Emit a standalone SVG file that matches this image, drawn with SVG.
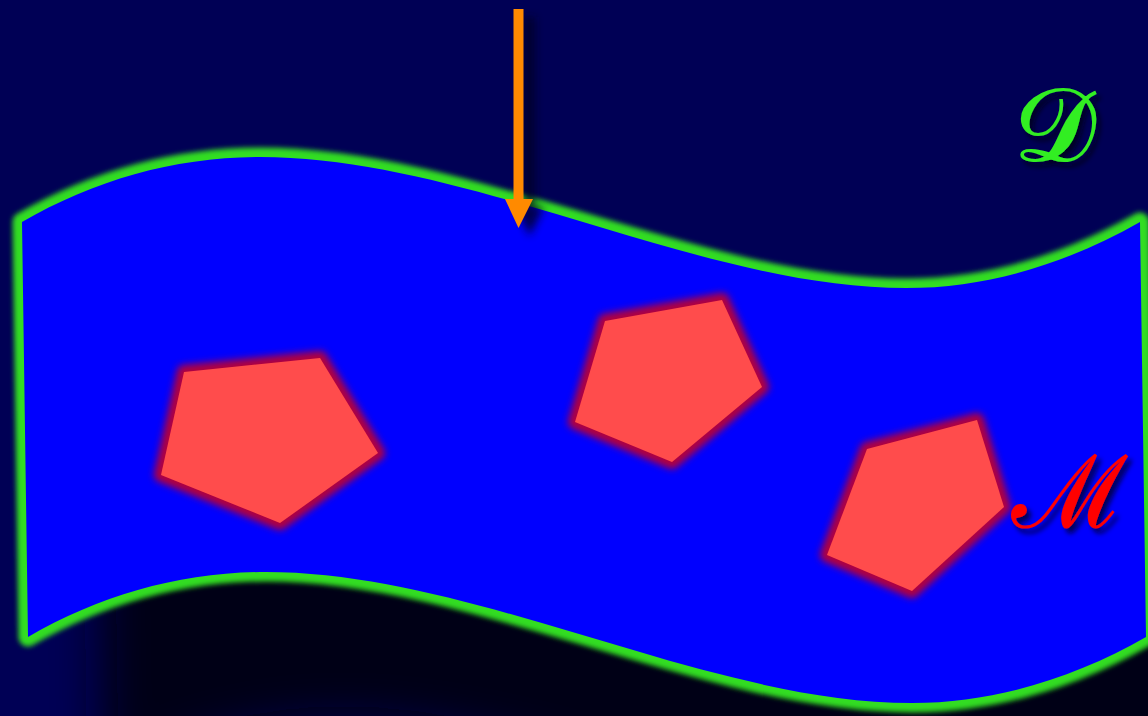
<svg xmlns="http://www.w3.org/2000/svg" width="1148" height="716" viewBox="0 0 1148 716">
  <style>
    .glow-edge { fill: none; stroke: #33dd22; stroke-width: 19; stroke-linejoin: round; }
    .sheet { fill: #0000ff; }
    .penta-edge { fill: none; stroke: #b3003c; stroke-width: 14; stroke-linejoin: round; }
    .penta { fill: #ff4c4c; }
    .label { font-family: "DejaVu Serif", "Liberation Serif", serif; font-style: normal; }
  </style>
  <defs>
    <filter id="blurSmall" x="-20%" y="-20%" width="140%" height="140%"><feGaussianBlur stdDeviation="2.8"/></filter>
    <filter id="blurPenta" x="-30%" y="-30%" width="160%" height="160%"><feGaussianBlur stdDeviation="3.5"/></filter>
    <filter id="blurShadow" x="-20%" y="-20%" width="140%" height="140%"><feGaussianBlur stdDeviation="24"/></filter>
    <filter id="blurArrow" x="-50%" y="-20%" width="200%" height="140%"><feGaussianBlur stdDeviation="4"/></filter>
    <filter id="textShadow" x="-30%" y="-30%" width="160%" height="160%">
      <feDropShadow dx="4" dy="5" stdDeviation="2.5" flood-color="#000010" flood-opacity="0.7"/>
    </filter>
    <path id="sheetPath" d="M22,222 C95,180 175,157 260,157 C470,157 700,288 906,288 C990,288 1070,262 1140,222 L1146,637 C1076,677 996,703 912,703 C706,703 476,572 266,572 C181,572 101,595 28,637 Z"/>
  </defs>

  <rect x="0" y="0" width="1148" height="716" fill="#000055"/>

  <g id="sheet">
    <use href="#sheetPath" fill="#000012" transform="translate(75,150)" filter="url(#blurShadow)"/>
    <use href="#sheetPath" class="glow-edge" filter="url(#blurSmall)"/>
    <use href="#sheetPath" class="sheet"/>
  </g>

  <g id="pentagon1">
    <polygon class="penta-edge" points="184,372 320,358 378,453 280,523 161,475" filter="url(#blurPenta)"/>
    <polygon class="penta" points="184,372 320,358 378,453 280,523 161,475"/>
  </g>
  <g id="pentagon2">
    <polygon class="penta-edge" points="605,321 722,300 762,387 672,462 575,422" filter="url(#blurPenta)"/>
    <polygon class="penta" points="605,321 722,300 762,387 672,462 575,422"/>
  </g>
  <g id="pentagon3">
    <polygon class="penta-edge" points="867,449 977,420 1004,507 912,591 827,555" filter="url(#blurPenta)"/>
    <polygon class="penta" points="867,449 977,420 1004,507 912,591 827,555"/>
  </g>

  <g id="connectors">
    <g fill="#000022" opacity="0.8" filter="url(#blurArrow)" transform="translate(11,8)">
      <rect x="513.5" y="9" width="10" height="192"/>
      <polygon points="505,199 533,199 518.5,228"/>
    </g>
    <g fill="#ff8a00">
      <rect x="513.5" y="9" width="10" height="192"/>
      <polygon points="505,199 533,199 518.5,228"/>
    </g>
  </g>

  <g id="labelD">
    <text class="label" x="1014" y="160" font-size="102" fill="#33ee22" stroke="#33ee22" stroke-width="2" filter="url(#textShadow)">𝒟</text>
  </g>
  <g id="labelM">
    <text class="label" x="1012" y="527" font-size="100" fill="#ff0000" stroke="#ff0000" stroke-width="1.2" filter="url(#textShadow)">ℳ</text>
  </g>
</svg>
